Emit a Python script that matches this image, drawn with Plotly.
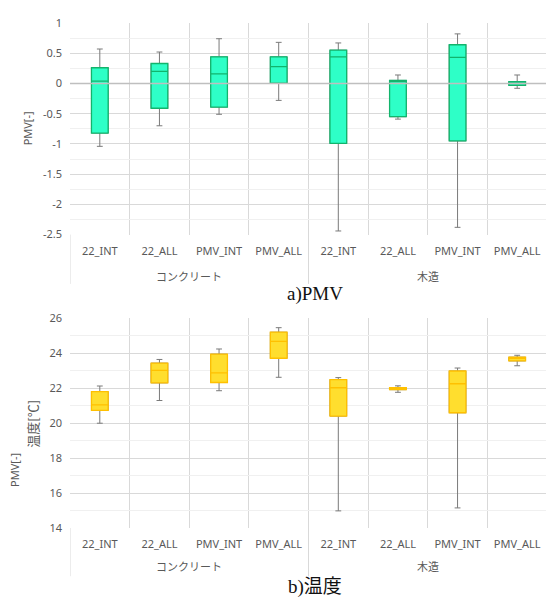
import plotly.graph_objects as go
from plotly.subplots import make_subplots

group_names = ["コンクリート", "木造"]
categories = ["22_INT", "22_ALL", "PMV_INT", "PMV_ALL"] * 2

pmv_low = [-1.04, -0.70, -0.51, -0.28, -2.44, -0.59, -2.38, -0.08]
pmv_q1 = [-0.82, -0.41, -0.39, 0.005, -0.99, -0.55, -0.95, -0.03]
pmv_med = [0.04, 0.20, 0.16, 0.28, 0.44, 0.03, 0.43, 0.005]
pmv_q3 = [0.26, 0.33, 0.44, 0.44, 0.55, 0.05, 0.64, 0.03]
pmv_high = [0.57, 0.52, 0.74, 0.68, 0.67, 0.14, 0.82, 0.14]

tmp_low = [20.00, 21.30, 21.86, 22.63, 14.98, 21.77, 15.15, 23.29]
tmp_q1 = [20.73, 22.31, 22.33, 23.72, 20.41, 21.92, 20.60, 23.57]
tmp_med = [21.05, 23.03, 22.88, 24.68, 22.03, 21.97, 22.26, 23.71]
tmp_q3 = [21.81, 23.44, 23.95, 25.21, 22.50, 22.03, 22.99, 23.78]
tmp_high = [22.13, 23.65, 24.25, 25.47, 22.61, 22.14, 23.16, 23.89]

pmv_ticks = [-2.5, -2, -1.5, -1, -0.5, 0, 0.5, 1]
pmv_ticktext = ["-2.5", "-2", "-1.5", "-1", "-0.5", "0", "0.5", "1"]

pos = list(range(len(categories)))
n_per_group = len(categories) // len(group_names)
group_centers = [g * n_per_group + (n_per_group - 1) / 2 for g in range(len(group_names))]
group_edges = [g * n_per_group - 0.5 for g in range(len(group_names) + 1)]
boundaries = [p - 0.5 for p in pos] + [pos[-1] + 0.5]

fig = make_subplots(rows=2, cols=1)

WHISK = "#7a7a7a"

def add_boxes(row, low, q1, med, q3, high, fill, edge):
    fig.add_trace(go.Box(
        x=pos, q1=q1, median=med, q3=q3, lowerfence=low, upperfence=high,
        fillcolor=fill, line=dict(color=WHISK, width=1), whiskerwidth=0.35,
        showlegend=False, hoverinfo="skip"), row=row, col=1)
    fig.add_trace(go.Box(
        x=pos, q1=q1, median=med, q3=q3, lowerfence=q1, upperfence=q3,
        fillcolor=fill, line=dict(color=edge, width=1.3), whiskerwidth=0,
        showlegend=False, hoverinfo="skip"), row=row, col=1)

add_boxes(1, pmv_low, pmv_q1, pmv_med, pmv_q3, pmv_high, "#2EFFC7", "#12B46C")
add_boxes(2, tmp_low, tmp_q1, tmp_med, tmp_q3, tmp_high, "#FFDE2E", "#FFC000")

tickfont = dict(family="Noto Sans, Noto Sans CJK JP", size=11, color="#595959")

xcommon = dict(
    range=[-0.5, 7.5], tickmode="array", tickvals=pos, ticktext=categories,
    showgrid=False, ticks="", tickfont=tickfont, zeroline=False, showline=False,
    ticklabelstandoff=8,
    minor=dict(tickmode="array", tickvals=boundaries, showgrid=True, gridcolor="#d9d9d9", ticks=""),
)
fig.update_layout(xaxis=dict(domain=[0, 1], **xcommon), xaxis2=dict(domain=[0, 1], **xcommon))

fig.update_layout(
    yaxis=dict(domain=[0.581, 1.0], range=[-2.5, 1], tickmode="array", tickvals=pmv_ticks, ticktext=pmv_ticktext,
               showgrid=True, gridcolor="#d9d9d9", zeroline=False, tickfont=tickfont, ticks="",
               minor=dict(tickmode="linear", dtick=0.25, tick0=0, showgrid=True, gridcolor="#f0f0f0"),
               showline=False, ticklabelstandoff=7),
    yaxis2=dict(domain=[0.0, 0.415], range=[14, 26], dtick=2, tick0=14,
                showgrid=True, gridcolor="#d9d9d9", zeroline=False, tickfont=tickfont, ticks="",
                minor=dict(dtick=1, tick0=14, showgrid=True, gridcolor="#f0f0f0"),
                showline=False, ticklabelstandoff=7),
)

fig.add_shape(type="line", xref="x", yref="y", x0=-0.5, x1=7.5, y0=0, y1=0,
              line=dict(color="#bfbfbf", width=1.5), layer="above")

# group dividers below the plots
for xe in group_edges:
    fig.add_shape(type="line", xref="x", yref="paper", x0=xe, x1=xe, y0=0.581, y1=0.4834,
                  line=dict(color="#d9d9d9", width=1))
    fig.add_shape(type="line", xref="x2", yref="paper", x0=xe, x1=xe, y0=0.0, y1=-0.0955,
                  line=dict(color="#d9d9d9", width=1))

grp_font = dict(family="Noto Sans CJK JP", size=11, color="#595959")
for gname, gc in zip(group_names, group_centers):
    fig.add_annotation(text=gname, xref="x", yref="paper", x=gc, y=0.499, showarrow=False,
                       xanchor="center", yanchor="middle", font=grp_font)
    fig.add_annotation(text=gname, xref="x2", yref="paper", x=gc, y=-0.076, showarrow=False,
                       xanchor="center", yanchor="middle", font=grp_font)

ann_font = dict(family="Noto Sans, Noto Sans CJK JP", size=11, color="#595959")
fig.add_annotation(text="PMV[-]", xref="paper", yref="paper", x=-0.0901, y=0.7914,
                   xanchor="center", yanchor="middle",
                   textangle=-90, showarrow=False, font=ann_font)
fig.add_annotation(text="温度[℃]", xref="paper", yref="paper", x=-0.0776, y=0.2066,
                   xanchor="center", yanchor="middle",
                   textangle=-90, showarrow=False, font=dict(family="Noto Sans CJK JP", size=13, color="#595959"))
fig.add_annotation(text="PMV[-]", xref="paper", yref="paper", x=-0.1153, y=0.115,
                   xanchor="center", yanchor="middle",
                   textangle=-90, showarrow=False, font=ann_font)

cap_font = dict(family="Liberation Serif, Noto Sans CJK JP", size=19, color="#111111")
fig.add_annotation(text="a)PMV", xref="paper", yref="paper", x=0.514, y=0.464,
                   xanchor="center", yanchor="middle", showarrow=False, font=cap_font)
fig.add_annotation(text="b)温度", xref="paper", yref="paper", x=0.514, y=-0.117,
                   xanchor="center", yanchor="middle", showarrow=False, font=cap_font)

fig.update_layout(
    width=546, height=593, margin=dict(l=62, r=7, t=7, b=73),
    plot_bgcolor="white", paper_bgcolor="white",
    boxmode="overlay", boxgap=0.6, showlegend=False,
)

fig.write_html("out.html")
